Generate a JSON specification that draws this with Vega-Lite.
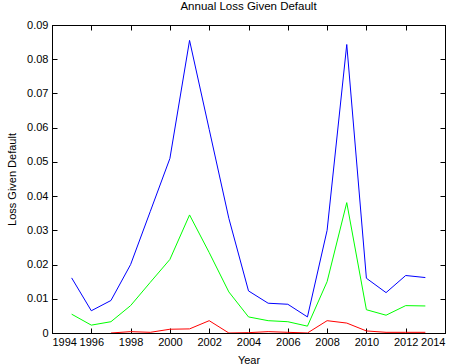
{
  "$schema": "https://vega.github.io/schema/vega-lite/v6.json",
  "width": 393,
  "height": 308,
  "autosize": "none",
  "padding": {"left": 52, "top": 25, "right": 13, "bottom": 31},
  "background": "white",
  "title": {"text": "Annual Loss Given Default", "font": "Liberation Sans", "fontSize": 11.5, "fontWeight": "normal", "color": "black", "offset": 7},
  "config": {
    "view": {"stroke": "black", "strokeWidth": 1},
    "axis": {
      "grid": false,
      "domainColor": "black",
      "tickColor": "black",
      "labelColor": "black",
      "titleColor": "black",
      "labelFont": "Liberation Sans",
      "titleFont": "Liberation Sans",
      "labelFontSize": 11,
      "titleFontSize": 11,
      "titleFontWeight": "normal",
      "tickSize": -5,
      "zindex": 1
    }
  },
  "data": {
    "values": [
      {"Year": 1995, "series": "A", "LGD": 0.0161},
      {"Year": 1996, "series": "A", "LGD": 0.0065},
      {"Year": 1997, "series": "A", "LGD": 0.0095},
      {"Year": 1998, "series": "A", "LGD": 0.0200},
      {"Year": 1999, "series": "A", "LGD": 0.0355},
      {"Year": 2000, "series": "A", "LGD": 0.0510},
      {"Year": 2001, "series": "A", "LGD": 0.0855},
      {"Year": 2002, "series": "A", "LGD": 0.0595},
      {"Year": 2003, "series": "A", "LGD": 0.0335},
      {"Year": 2004, "series": "A", "LGD": 0.0123},
      {"Year": 2005, "series": "A", "LGD": 0.0087},
      {"Year": 2006, "series": "A", "LGD": 0.0084},
      {"Year": 2007, "series": "A", "LGD": 0.0047},
      {"Year": 2008, "series": "A", "LGD": 0.0300},
      {"Year": 2009, "series": "A", "LGD": 0.0843},
      {"Year": 2010, "series": "A", "LGD": 0.0160},
      {"Year": 2011, "series": "A", "LGD": 0.0118},
      {"Year": 2012, "series": "A", "LGD": 0.0168},
      {"Year": 2013, "series": "A", "LGD": 0.0162},
      {"Year": 1995, "series": "B", "LGD": 0.0055},
      {"Year": 1996, "series": "B", "LGD": 0.0023},
      {"Year": 1997, "series": "B", "LGD": 0.0033},
      {"Year": 1998, "series": "B", "LGD": 0.0080},
      {"Year": 1999, "series": "B", "LGD": 0.0148},
      {"Year": 2000, "series": "B", "LGD": 0.0215},
      {"Year": 2001, "series": "B", "LGD": 0.0345},
      {"Year": 2002, "series": "B", "LGD": 0.0235},
      {"Year": 2003, "series": "B", "LGD": 0.0120},
      {"Year": 2004, "series": "B", "LGD": 0.0047},
      {"Year": 2005, "series": "B", "LGD": 0.0036},
      {"Year": 2006, "series": "B", "LGD": 0.0033},
      {"Year": 2007, "series": "B", "LGD": 0.0020},
      {"Year": 2008, "series": "B", "LGD": 0.0150},
      {"Year": 2009, "series": "B", "LGD": 0.0381},
      {"Year": 2010, "series": "B", "LGD": 0.0068},
      {"Year": 2011, "series": "B", "LGD": 0.0052},
      {"Year": 2012, "series": "B", "LGD": 0.0080},
      {"Year": 2013, "series": "B", "LGD": 0.0079},
      {"Year": 1997, "series": "C", "LGD": 0},
      {"Year": 1998, "series": "C", "LGD": 0.0004},
      {"Year": 1999, "series": "C", "LGD": 0.0002},
      {"Year": 2000, "series": "C", "LGD": 0.0011},
      {"Year": 2001, "series": "C", "LGD": 0.0012},
      {"Year": 2002, "series": "C", "LGD": 0.0036},
      {"Year": 2003, "series": "C", "LGD": 0},
      {"Year": 2004, "series": "C", "LGD": 0.0001},
      {"Year": 2005, "series": "C", "LGD": 0.0004},
      {"Year": 2006, "series": "C", "LGD": 0.0002},
      {"Year": 2007, "series": "C", "LGD": 0},
      {"Year": 2008, "series": "C", "LGD": 0.0036},
      {"Year": 2009, "series": "C", "LGD": 0.0029},
      {"Year": 2010, "series": "C", "LGD": 0.0006},
      {"Year": 2011, "series": "C", "LGD": 0.0002},
      {"Year": 2012, "series": "C", "LGD": 0.0002},
      {"Year": 2013, "series": "C", "LGD": 0.0002}
    ]
  },
  "layer": [
    {
      "mark": {"type": "line", "strokeWidth": 1, "clip": true},
      "encoding": {
        "x": {"field": "Year", "type": "quantitative", "scale": {"domain": [1994, 2014], "nice": false, "zero": false},
              "axis": {"values": [1994, 1996, 1998, 2000, 2002, 2004, 2006, 2008, 2010, 2012, 2014], "format": "d", "title": "Year", "labelPadding": 8, "labelBaseline": "top", "titlePadding": 7}},
        "y": {"field": "LGD", "type": "quantitative", "scale": {"domain": [0, 0.09], "nice": false},
              "axis": {"values": [0, 0.01, 0.02, 0.03, 0.04, 0.05, 0.06, 0.07, 0.08, 0.09], "format": ".2~f", "title": "Loss Given Default", "labelPadding": 9, "titlePadding": 9}},
        "color": {"field": "series", "type": "nominal", "scale": {"domain": ["A", "B", "C"], "range": ["#0000ff", "#00ff00", "#ff0000"]}, "legend": null}
      }
    },
    {
      "mark": {"type": "line", "opacity": 0},
      "encoding": {
        "x": {"field": "Year", "type": "quantitative", "axis": {"orient": "top", "values": [1994, 1996, 1998, 2000, 2002, 2004, 2006, 2008, 2010, 2012, 2014], "labels": false, "title": null}},
        "y": {"field": "LGD", "type": "quantitative", "axis": {"orient": "right", "values": [0, 0.01, 0.02, 0.03, 0.04, 0.05, 0.06, 0.07, 0.08, 0.09], "labels": false, "title": null}}
      }
    }
  ],
  "resolve": {"axis": {"x": "independent", "y": "independent"}}
}
